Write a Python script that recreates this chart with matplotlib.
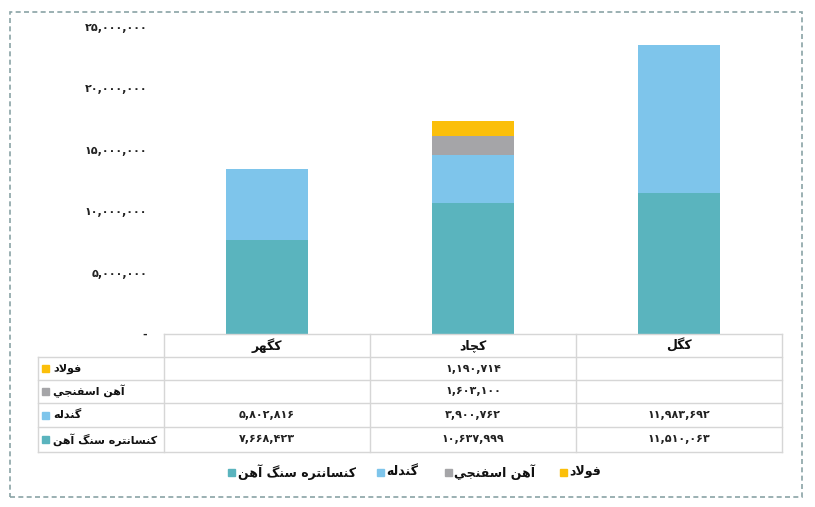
import matplotlib
matplotlib.use("Agg")
import matplotlib.pyplot as plt
from matplotlib.patches import Rectangle
from matplotlib.lines import Line2D

# ---------------- data ----------------
companies = ["کگهر", "کچاد", "کگل"]
series_names = ["کنسانتره سنگ آهن", "گندله", "آهن اسفنجي", "فولاد"]
concentrate = [7668423, 10637999, 11510063]
pellet = [5802816, 3900762, 11983692]
sponge_iron = [0, 1603100, 0]
steel = [0, 1190714, 0]
yticks = [0, 5000000, 10000000, 15000000, 20000000, 25000000]
colors = ["#5AB4BE", "#7EC5EB", "#A5A5A8", "#FBBF0A"]

plt.rcParams['font.family'] = ['DejaVu Sans']

# ---------------- simple Arabic/Persian shaping ----------------
FORMS = {
    'ا': (0xFE8D, 0xFE8E, None, None),
    'آ': (0xFE81, 0xFE82, None, None),
    'د': (0xFEA9, 0xFEAA, None, None),
    'ر': (0xFEAD, 0xFEAE, None, None),
    'و': (0xFEED, 0xFEEE, None, None),
    'ف': (0xFED1, 0xFED2, 0xFED3, 0xFED4),
    'ل': (0xFEDD, 0xFEDE, 0xFEDF, 0xFEE0),
    'ه': (0xFEE9, 0xFEEA, 0xFEEB, 0xFEEC),
    'ن': (0xFEE5, 0xFEE6, 0xFEE7, 0xFEE8),
    'س': (0xFEB1, 0xFEB2, 0xFEB3, 0xFEB4),
    'ج': (0xFE9D, 0xFE9E, 0xFE9F, 0xFEA0),
    'ي': (0xFEF1, 0xFEF2, 0xFEF3, 0xFEF4),
    'ت': (0xFE95, 0xFE96, 0xFE97, 0xFE98),
    'ک': (0xFB8E, 0xFB8F, 0xFB90, 0xFB91),
    'گ': (0xFB92, 0xFB93, 0xFB94, 0xFB95),
    'چ': (0xFB7A, 0xFB7B, 0xFB7C, 0xFB7D),
}
LAMALEF = {'ا': (0xFEFB, 0xFEFC), 'آ': (0xFEF5, 0xFEF6)}


def dual(c):
    return c in FORMS and FORMS[c][2] is not None


def shape(s):
    out = []
    i = 0
    n = len(s)
    while i < n:
        c = s[i]
        if c not in FORMS:
            out.append(c)
            i += 1
            continue
        prev = s[i - 1] if i > 0 else ''
        conn_prev = dual(prev)
        if c == 'ل' and i + 1 < n and s[i + 1] in LAMALEF:
            iso, fin = LAMALEF[s[i + 1]]
            out.append(chr(fin if conn_prev else iso))
            i += 2
            continue
        nxt = s[i + 1] if i + 1 < n else ''
        conn_next = dual(c) and nxt in FORMS
        iso, fin, ini, med = FORMS[c]
        if conn_prev and conn_next:
            g = med
        elif conn_prev:
            g = fin
        elif conn_next:
            g = ini
        else:
            g = iso
        out.append(chr(g))
        i += 1
    return ''.join(out)[::-1]


PD = str.maketrans('0123456789', '۰۱۲۳۴۵۶۷۸۹')


def fa_num(v):
    if v == 0:
        return '-'
    return f"{v:,}".translate(PD)


# ---------------- figure ----------------
W, H = 815, 507
fig = plt.figure(figsize=(W / 100, H / 100), dpi=100)


def fx(x):
    return x / W


def fy(y):
    return 1 - y / H


ax_left, ax_right, ax_top, ax_bottom = 164, 782, 27, 334
ax = fig.add_axes([fx(ax_left), fy(ax_bottom), fx(ax_right - ax_left), (ax_bottom - ax_top) / H])

x = list(range(len(companies)))
bottom = [0] * len(companies)
series = [concentrate, pellet, sponge_iron, steel]
for vals, col in zip(series, colors):
    ax.bar(x, vals, width=0.40, bottom=bottom, color=col, edgecolor='none')
    bottom = [b + v for b, v in zip(bottom, vals)]

ax.set_xlim(-0.5, len(companies) - 0.5)
ax.set_ylim(0, 25000000)
ax.set_yticks(yticks)
ax.set_yticklabels([fa_num(v) for v in yticks], fontsize=8, fontweight='bold', color='#222222')
ax.tick_params(axis='y', length=0, pad=12)
ax.set_xticks([])
for sp in ax.spines.values():
    sp.set_visible(False)

# ---------------- data table ----------------
grid_c = '#D6D6D6'
col_edges = [164, 370, 576, 782]
tbl_left = 38
row_edges = [357, 380, 403, 427, 452]
header_top = 334


def hline(x0, x1, y):
    fig.add_artist(Line2D([fx(x0), fx(x1)], [fy(y), fy(y)], color=grid_c, lw=1.0))


def vline(x0, y0, y1):
    fig.add_artist(Line2D([fx(x0), fx(x0)], [fy(y0), fy(y1)], color=grid_c, lw=1.0))


hline(col_edges[0], col_edges[-1], header_top)
for y in row_edges:
    hline(tbl_left, col_edges[-1], y)
for xe in col_edges:
    vline(xe, header_top, row_edges[-1])
vline(tbl_left, row_edges[0], row_edges[-1])

# header
for j, name in enumerate(companies):
    cx = (col_edges[j] + col_edges[j + 1]) / 2
    fig.text(fx(cx), fy((header_top + row_edges[0]) / 2), shape(name), ha='center', va='center',
             fontsize=9, fontweight='bold', color='#111111')

# rows (top to bottom: steel, sponge, pellet, concentrate)
row_order = [3, 2, 1, 0]
for r, si in enumerate(row_order):
    yc = (row_edges[r] + row_edges[r + 1]) / 2
    fig.add_artist(Rectangle((fx(42), fy(yc + 3.5)), fx(7), 7 / H, color=colors[si],
                             transform=fig.transFigure))
    fig.text(fx(53), fy(yc), shape(series_names[si]), ha='left', va='center',
             fontsize=8, fontweight='bold', color='#111111')
    for j in range(len(companies)):
        v = series[si][j]
        if v:
            cx = (col_edges[j] + col_edges[j + 1]) / 2
            fig.text(fx(cx), fy(yc), fa_num(v), ha='center', va='center',
                     fontsize=8, fontweight='bold', color='#222222')

# ---------------- legend ----------------
leg_y = 472
leg_items = [(0, 228, 238), (1, 377, 386), (2, 445, 454), (3, 560, 569)]
for si, sq_x, tx in leg_items:
    fig.add_artist(Rectangle((fx(sq_x), fy(leg_y + 3.5)), fx(7), 7 / H, color=colors[si],
                             transform=fig.transFigure))
    fig.text(fx(tx), fy(leg_y), shape(series_names[si]), ha='left', va='center',
             fontsize=9, fontweight='bold', color='#111111')

# ---------------- dashed frame ----------------
fig.add_artist(Rectangle((fx(10), fy(497)), fx(792), (497 - 12) / H, fill=False,
                         edgecolor='#8AA3A6', lw=1.2, linestyle=(0, (3, 2)),
                         transform=fig.transFigure))

fig.savefig("out.png", dpi=100)
